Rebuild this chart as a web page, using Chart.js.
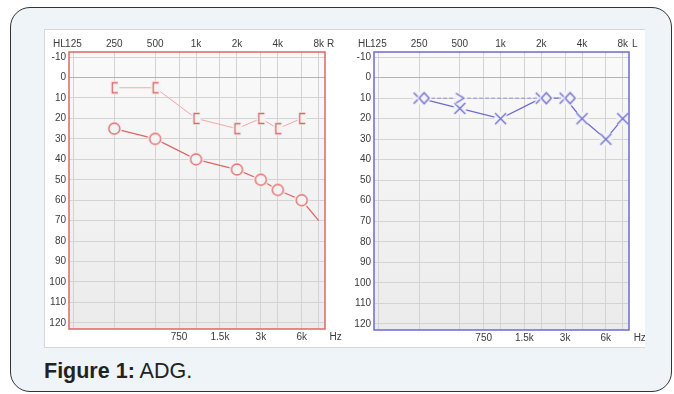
<!DOCTYPE html>
<html>
<head>
<meta charset="utf-8">
<title>ADG</title>
<script src="https://cdn.jsdelivr.net/npm/chart.js@4.4.0/dist/chart.umd.min.js"></script>
<style>
  html, body { margin: 0; padding: 0; background: #fff; width: 674px; height: 394px; overflow: hidden;
    font-family: "Liberation Sans", Arial, sans-serif; }
  #frame { position: absolute; left: 10px; top: 7px; width: 660px; height: 383px;
    border: 1.5px solid #333; border-radius: 20px; background: #eef4f8; }
  #panel { position: absolute; left: 44px; top: 29px; width: 601px; height: 319px; background: #fff;
    border: 1px solid #d6d6d6; border-right: none; box-sizing: border-box; }
  .chartbox { position: absolute; top: 29px; }
  #caption { position: absolute; left: 44px; top: 360px; font-size: 21.5px; line-height: 22px; color: #222; }
</style>
</head>
<body>
<div id="frame"></div>
<div id="panel"></div>
<div class="chartbox" style="left:44px"><canvas id="earR" width="301" height="319"></canvas></div>
<div class="chartbox" style="left:345px"><canvas id="earL" width="300" height="319"></canvas></div>
<div id="caption"><b>Figure 1:</b> ADG.</div>

<script>
// Audiometric frequencies (Hz) and hearing levels (dB HL)
const freqTicks = [125, 250, 500, 750, 1000, 1500, 2000, 3000, 4000, 6000, 8000];
const topFreqLabels = { 125: '125', 250: '250', 500: '500', 1000: '1k', 2000: '2k', 4000: '4k', 8000: '8k' };
const bottomFreqLabels = { 750: '750', 1500: '1.5k', 3000: '3k', 6000: '6k' };
const levelTicks = [-10, 0, 10, 20, 30, 40, 50, 60, 70, 80, 90, 100, 110, 120];

// Right ear: air conduction (O) and bone conduction ([)
const rightAirFreqs = [250, 500, 1000, 2000, 3000, 4000, 6000, 8000];
const rightAirLevels = [25, 30, 40, 45, 50, 55, 60, 70];
const rightBoneFreqs = [250, 500, 1000, 2000, 3000, 4000, 6000];
const rightBoneLevels = [5, 5, 20, 25, 20, 25, 20];

// Left ear: air conduction (X) and bone conduction
const leftAirFreqs = [250, 500, 1000, 2000, 3000, 4000, 6000, 8000];
const leftAirLevels = [10, 15, 20, 10, 10, 20, 30, 20];
const leftBoneFreqs = [250, 500, 2000, 3000];
const leftBoneLevels = [10, 10, 10, 10];

const RED = '#e06565';
const RED_LIGHT = '#efa8a8';
const BLUE = '#6b6bd2';
const BLUE_LIGHT = '#8f8fdc';
const HALO = '#f3f3f3';
const TICK_FONT = { family: '"Liberation Sans", Arial, sans-serif', size: 10 };
const TICK_COLOR = '#3c3c3c';

// Audiogram symbols drawn onto small canvases; a background-coloured pad
// underneath each one makes the connecting lines stop short of the symbol
function symbol(w, h, dx, pad, path, color) {
  const c = document.createElement('canvas');
  c.width = w; c.height = h;
  const g = c.getContext('2d');
  g.translate(w / 2 + dx, h / 2);
  g.fillStyle = HALO;
  g.beginPath(); pad(g); g.fill();
  g.beginPath(); path(g);
  g.strokeStyle = HALO; g.lineWidth = 4; g.stroke();
  g.beginPath(); path(g);
  g.strokeStyle = color; g.lineWidth = 1.3; g.stroke();
  return c;
}
const circleSym = symbol(17, 17, 0, g => g.arc(0, 0, 6, 0, Math.PI * 2),
  g => g.arc(0, 0, 5.5, 0, Math.PI * 2), RED);
const bracketSym = symbol(17, 17, 0, g => g.rect(-4, -6.5, 9, 13),
  g => { g.moveTo(3.5, -5); g.lineTo(-2, -5); g.lineTo(-2, 5); g.lineTo(3.5, 5); }, RED);
const crossSym = symbol(17, 17, 0, g => g.arc(0, 0, 6.5, 0, Math.PI * 2),
  g => { g.moveTo(-5.5, -5.5); g.lineTo(5.5, 5.5); g.moveTo(5.5, -5.5); g.lineTo(-5.5, 5.5); }, BLUE);
const diamondSym = symbol(27, 17, 5, g => { g.moveTo(0, -6.5); g.lineTo(6, 0); g.lineTo(0, 6.5); g.lineTo(-6, 0); g.closePath(); },
  g => { g.moveTo(0, -5.5); g.lineTo(5, 0); g.lineTo(0, 5.5); g.lineTo(-5, 0); g.closePath(); }, BLUE);
const chevronSym = symbol(15, 15, 0, g => { g.moveTo(-5, -6); g.lineTo(5, 0); g.lineTo(-5, 6); g.closePath(); },
  g => { g.moveTo(-4, -5); g.lineTo(4, 0); g.lineTo(-4, 5); }, BLUE);

function points(freqs, levels) {
  return freqs.map((f, i) => ({ x: f, y: levels[i] }));
}

// Plot background, coloured frame and the axis captions (HL, ear, Hz)
const plotFrame = {
  id: 'plotFrame',
  beforeDraw(chart, args, opts) {
    const { ctx, chartArea: a } = chart;
    const grad = ctx.createLinearGradient(0, a.top, 0, a.bottom);
    grad.addColorStop(0, '#fafafa');
    grad.addColorStop(1, '#ebebeb');
    ctx.save();
    ctx.fillStyle = grad;
    ctx.fillRect(a.left, a.top, a.width, a.height);
    ctx.restore();
  },
  afterDraw(chart, args, opts) {
    const { ctx, chartArea: a, scales } = chart;
    ctx.save();
    ctx.strokeStyle = opts.color;
    ctx.lineWidth = 1.5;
    ctx.strokeRect(a.left, a.top, a.width, a.height);
    ctx.font = '10px "Liberation Sans", Arial, sans-serif';
    ctx.fillStyle = TICK_COLOR;
    ctx.textBaseline = 'middle';
    const x125 = scales.xTop.getPixelForValue(125);
    const x8k = scales.xTop.getPixelForValue(8000);
    ctx.textAlign = 'right';
    ctx.fillText('HL', x125 - 7.5, a.top - 8);
    ctx.textAlign = 'center';
    ctx.fillText(opts.ear, x8k + 12, a.top - 8);
    ctx.fillText('Hz', x8k + 17, a.bottom + 8);
    ctx.restore();
  }
};

function audiogram(canvasId, datasets, cfg) {
  const setFreqTicks = s => { s.ticks = freqTicks.map(v => ({ value: v })); };
  return new Chart(document.getElementById(canvasId), {
    type: 'line',
    data: { datasets },
    options: {
      responsive: false,
      animation: false,
      events: [],
      layout: { padding: { left: 0, top: 0, right: cfg.padRight, bottom: 0 } },
      plugins: {
        legend: { display: false },
        tooltip: { enabled: false },
        plotFrame: { color: cfg.frameColor, ear: cfg.ear }
      },
      scales: {
        x: {
          type: 'logarithmic', position: 'bottom', min: 116, max: 8900,
          afterBuildTicks: setFreqTicks,
          afterFit: s => { s.height = cfg.bottomH; },
          ticks: { autoSkip: false, maxRotation: 0, minRotation: 0, padding: 2, font: TICK_FONT, color: TICK_COLOR,
            callback: v => bottomFreqLabels[v] || '' },
          grid: { color: '#d3d3d3', drawTicks: false },
          border: { display: false }
        },
        xTop: {
          type: 'logarithmic', position: 'top', min: 116, max: 8900,
          afterBuildTicks: setFreqTicks,
          afterFit: s => { s.height = 23; },
          ticks: { autoSkip: false, maxRotation: 0, minRotation: 0, padding: 2, font: TICK_FONT, color: TICK_COLOR,
            callback: v => topFreqLabels[v] || '' },
          grid: { display: false, drawTicks: false },
          border: { display: false }
        },
        y: {
          type: 'linear', reverse: true, min: -12.5, max: 123,
          afterBuildTicks: s => { s.ticks = levelTicks.map(v => ({ value: v })); },
          afterFit: s => { s.width = cfg.yW; },
          ticks: { padding: 3, font: TICK_FONT, color: TICK_COLOR },
          grid: { color: c => (c.tick && c.tick.value === 0 ? '#b3b3b3' : '#d3d3d3'), drawTicks: false },
          border: { display: false }
        }
      }
    },
    plugins: [plotFrame]
  });
}

audiogram('earR', [
  {
    data: points(rightBoneFreqs, rightBoneLevels),
    borderColor: RED_LIGHT, borderWidth: 1, tension: 0, fill: false,
    pointStyle: bracketSym, pointRadius: 5
  },
  {
    data: points(rightAirFreqs, rightAirLevels),
    borderColor: RED, borderWidth: 1.3, tension: 0, fill: false,
    pointStyle: c => (c.dataIndex === rightAirFreqs.length - 1 ? false : circleSym), pointRadius: 6
  }
], { frameColor: RED, ear: 'R', yW: 25, bottomH: 19, padRight: 20 });

audiogram('earL', [
  {
    data: points(leftBoneFreqs, leftBoneLevels),
    borderColor: BLUE_LIGHT, borderWidth: 1, borderDash: [4, 2], tension: 0, fill: false,
    pointStyle: c => (leftBoneFreqs[c.dataIndex] === 500 ? chevronSym : diamondSym), pointRadius: 5
  },
  {
    data: points(leftAirFreqs, leftAirLevels),
    borderColor: BLUE, borderWidth: 1.3, tension: 0, fill: false,
    pointStyle: crossSym, pointRadius: 6
  }
], { frameColor: BLUE, ear: 'L', yW: 29, bottomH: 18, padRight: 16 });
</script>
</body>
</html>
